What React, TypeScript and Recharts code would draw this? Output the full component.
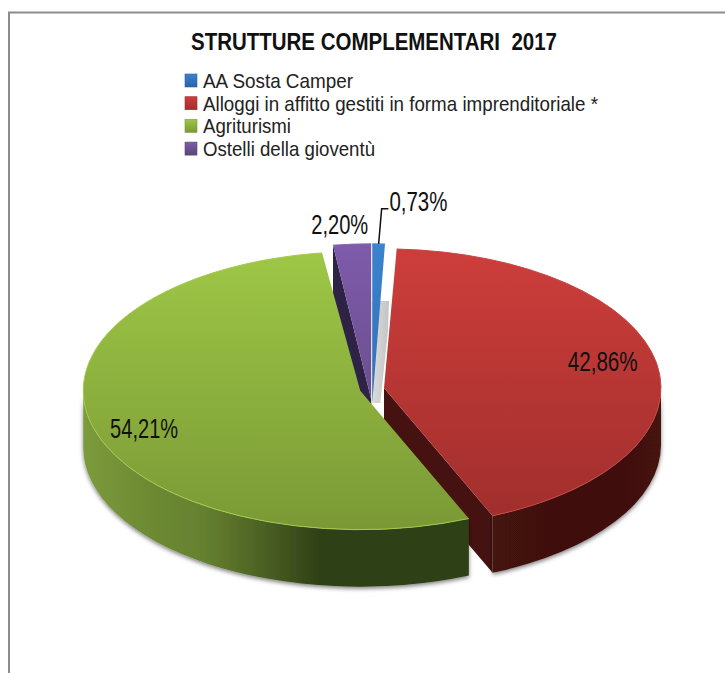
import React from "react";
import { PieChart, Pie, Legend } from "recharts";

const TITLE = "STRUTTURE COMPLEMENTARI  2017";
const CATEGORIES = [
  "AA Sosta Camper",
  "Alloggi in affitto gestiti in forma imprenditoriale *",
  "Agriturismi",
  "Ostelli della gioventù",
];
const VALUES = [0.73, 42.86, 54.21, 2.2];
const VALUE_LABELS = ["0,73%", "42,86%", "54,21%", "2,20%"];

// styles and layout, kept apart from the values
const FACE_TOP = ["#3b82cf", "#cd3e3b", "#9ec746", "#7f5bab"];
const FACE_BOTTOM = ["#2a64a2", "#9f2e2c", "#7a9936", "#5a4578"];
const RIM = ["#4a8fd8", "#c44845", "#a4cb4a", "#8a68b5"];
const WALL_STOPS = [
  ["#dcdcdc", "#c4c4c4"],
  ["#451211", "#411110", "#3f100f", "#451211"],
  ["#7c9b3b", "#6e8b34", "#66812f", "#4c6124", "#2e3f14"],
  ["#2e2346", "#2e2346"],
];
const LABEL_WIDTHS = [58, 70, 68, 57];
const LABEL_SHIFT = [
  [41, -70],
  [-1, -7],
  [-1, 7],
  [-16, -47],
];
const APEX_DROP = [20, 0, 0, 16];
const LEGEND_TEXT_WIDTHS = [150, 395, 88, 172];

const W = 725;
const H = 673;
const CX = 372;
const CY = 389;
const RX = 277;
const TILT = 0.502;
const EXPLODE = 0.044;
const DEPTH = 57;
const FONT = "'Liberation Sans', Arial, sans-serif";

const rows = CATEGORIES.map((category, i) => ({
  category,
  value: VALUES[i],
  fill: FACE_TOP[i],
}));

const rad = (d: number) => (d * Math.PI) / 180;

function geometry(p: any) {
  const a1 = p.startAngle as number;
  const a2 = p.endAngle as number;
  const mid = rad((a1 + a2) / 2);
  const ox = p.cx + EXPLODE * p.outerRadius * Math.cos(mid);
  const oy = p.cy - EXPLODE * p.outerRadius * TILT * Math.sin(mid);
  const rx = p.outerRadius as number;
  const ry = rx * TILT;
  const at = (a: number) => ({ x: ox + rx * Math.cos(rad(a)), y: oy - ry * Math.sin(rad(a)) });
  return { a1, a2, ox, oy, rx, ry, at };
}

function SliceShape(props: any) {
  const i = CATEGORIES.indexOf(props.category);
  if (i < 0 || !props.layer.includes(i)) return <g />;
  const { a1, a2, ox, oy, rx, ry, at } = geometry(props);
  const s = at(a1);
  const e = at(a2);
  const apex = { x: ox, y: oy + APEX_DROP[i] };
  const large = Math.abs(a1 - a2) > 180 ? 1 : 0;
  const face = `M${apex.x} ${apex.y}L${s.x} ${s.y}A${rx} ${ry} 0 ${large} 1 ${e.x} ${e.y}Z`;
  const rim = `M${s.x} ${s.y}A${rx} ${ry} 0 ${large} 1 ${e.x} ${e.y}`;

  // outer wall: the part of the arc on the viewer's side (recharts angles 0 to -180)
  const w1 = Math.min(a1, 0);
  const w2 = Math.max(a2, -180);
  let wall = null as any;
  if (w1 > w2) {
    const p = at(w1);
    const q = at(w2);
    const d = `M${p.x} ${p.y}A${rx} ${ry} 0 0 1 ${q.x} ${q.y}L${q.x} ${q.y + DEPTH}A${rx} ${ry} 0 0 0 ${p.x} ${p.y + DEPTH}Z`;
    wall = <path d={d} fill={`url(#wall${i})`} filter="url(#softShadow)" />;
  }
  // radial faces that look towards the viewer
  const radial: any[] = [];
  if (s.x < apex.x) {
    radial.push(
      <polygon
        key="s"
        points={`${apex.x},${apex.y} ${s.x},${s.y} ${s.x},${s.y + DEPTH} ${apex.x},${apex.y + DEPTH}`}
        fill={WALL_STOPS[i][0]}
      />
    );
  }
  if (e.x > apex.x && i === 1) {
    radial.push(
      <polygon
        key="e"
        points={`${apex.x},${apex.y} ${e.x},${e.y} ${e.x},${e.y + DEPTH} ${apex.x},${apex.y + DEPTH}`}
        fill={WALL_STOPS[i][0]}
      />
    );
  }
  if (i === 0) {
    // pale shadow that the narrow slice casts into the gap
    radial.push(
      <polygon
        key="g"
        points={`${apex.x},${apex.y} ${e.x - 14},${e.y + DEPTH} ${e.x + 4},${e.y + DEPTH} ${e.x + 3},${e.y + DEPTH + 30} ${apex.x + 8},${apex.y}`}
        fill={`url(#wall${i})`}
      />
    );
  }
  const stops = WALL_STOPS[i];
  return (
    <g>
      <defs>
        <linearGradient id={`face${i}`} gradientUnits="userSpaceOnUse" x1="0" x2="0" y1={oy - ry} y2={oy + ry}>
          <stop offset="0" stopColor={FACE_TOP[i]} />
          <stop offset="1" stopColor={FACE_BOTTOM[i]} />
        </linearGradient>
        <linearGradient
          id={`wall${i}`}
          gradientUnits={i === 0 ? "objectBoundingBox" : "userSpaceOnUse"}
          x1={i === 0 ? 0 : i === 1 ? e.x : ox - rx}
          x2={i === 0 ? 1 : i === 1 ? ox + rx : e.x}
          y1="0"
          y2="0"
        >
          {stops.map((c, k) => (
            <stop key={k} offset={k / (stops.length - 1)} stopColor={c} />
          ))}
        </linearGradient>
        <filter id={`softShadow`} x="-5%" y="-10%" width="110%" height="125%">
          <feDropShadow dx="0" dy="2" stdDeviation="2" floodColor="#000" floodOpacity="0.5" />
        </filter>
      </defs>
      {radial}
      {wall}
      <path d={face} fill={`url(#face${i})`} />
      <path d={rim} fill="none" stroke={RIM[i]} strokeWidth={1} />
    </g>
  );
}

function SliceLabel(props: any) {
  const i = CATEGORIES.indexOf(props.category);
  if (i < 0) return null;
  const mid = rad((props.startAngle + props.endAngle) / 2);
  const rr = props.outerRadius * 0.85;
  const x = props.cx + rr * Math.cos(mid) + LABEL_SHIFT[i][0];
  const y = props.cy - rr * TILT * Math.sin(mid) + LABEL_SHIFT[i][1];
  const text = (
    <text
      x={x}
      y={y + 10}
      textAnchor="middle"
      fontFamily={FONT}
      fontSize={28}
      fill="#111"
      textLength={LABEL_WIDTHS[i]}
      lengthAdjust="spacingAndGlyphs"
    >
      {VALUE_LABELS[i]}
    </text>
  );
  if (i !== 0) return text;
  const g = geometry(props);
  const foot = g.at((props.startAngle + props.endAngle) / 2);
  return (
    <g>
      <polyline
        points={`${foot.x},${foot.y} ${foot.x + 3},${y + 8} ${x - 30},${y + 8}`}
        fill="none"
        stroke="#111"
        strokeWidth={1.5}
      />
      {text}
    </g>
  );
}

function LegendContent(props: any) {
  const seen = new Set<string>();
  const items = ((props.payload ?? []) as any[])
    .filter((it) => {
      if (seen.has(it.value)) return false;
      seen.add(it.value);
      return true;
    })
    .sort((a, b) => CATEGORIES.indexOf(a.value) - CATEGORIES.indexOf(b.value));
  return (
    <svg width={W} height={180} style={{ display: "block", overflow: "visible", position: "absolute", left: 0, top: 0 }}>
      <defs>
        {FACE_TOP.map((c, i) => (
          <linearGradient key={i} id={`sw${i}`} x1="0" x2="0" y1="0" y2="1">
            <stop offset="0" stopColor={c} />
            <stop offset="1" stopColor={FACE_BOTTOM[i]} />
          </linearGradient>
        ))}
      </defs>
      {items.map((it, k) => {
        const i = CATEGORIES.indexOf(it.value);
        const y = 81 + k * 22.7;
        return (
          <g key={k}>
            <rect x={185} y={y - 7} width={12} height={13} fill={`url(#sw${i})`} stroke={FACE_BOTTOM[i]} strokeWidth={0.6} />
            <text
              x={203}
              y={y + 7}
              fontFamily={FONT}
              fontSize={21}
              fill="#222"
              textLength={LEGEND_TEXT_WIDTHS[i]}
              lengthAdjust="spacingAndGlyphs"
            >
              {it.value}
            </text>
          </g>
        );
      })}
    </svg>
  );
}

export default function App() {
  const common = {
    data: rows,
    dataKey: "value",
    nameKey: "category",
    cx: CX,
    cy: CY,
    innerRadius: 0,
    outerRadius: RX,
    startAngle: 90,
    endAngle: -270,
    stroke: "none",
    isAnimationActive: false,
    labelLine: false,
  };
  const shapeFor = (layer: number[]) => ({
    shape: (p: any) => <SliceShape {...p} layer={layer} />,
  });
  return (
    <div style={{ position: "absolute", left: 0, top: 0, width: W, height: H, background: "#fff" }}>
      <PieChart width={W} height={H} margin={{ top: 0, right: 0, bottom: 0, left: 0 }}>
        <path d={`M${W} 12.5H9V${H}`} fill="none" stroke="#8c8c8c" strokeWidth={2} />
        <text
          x={191}
          y={50}
          fontFamily={FONT}
          fontSize={23}
          fontWeight={700}
          fill="#111"
          style={{ whiteSpace: "pre" }}
          textLength={366}
          lengthAdjust="spacingAndGlyphs"
        >
          {TITLE}
        </text>
        <Pie {...common} {...shapeFor([3])} legendType="none" />
        <Pie {...common} {...shapeFor([0, 1])} />
        <Pie {...common} {...shapeFor([2])} legendType="none" label={(p: any) => <SliceLabel {...p} />} />
        <Legend
          content={(p: any) => <LegendContent {...p} />}
          wrapperStyle={{ position: "absolute", left: 0, top: 0, width: W, height: 0 }}
          layout="horizontal"
          verticalAlign="top"
          align="left"
        />
      </PieChart>
    </div>
  );
}
